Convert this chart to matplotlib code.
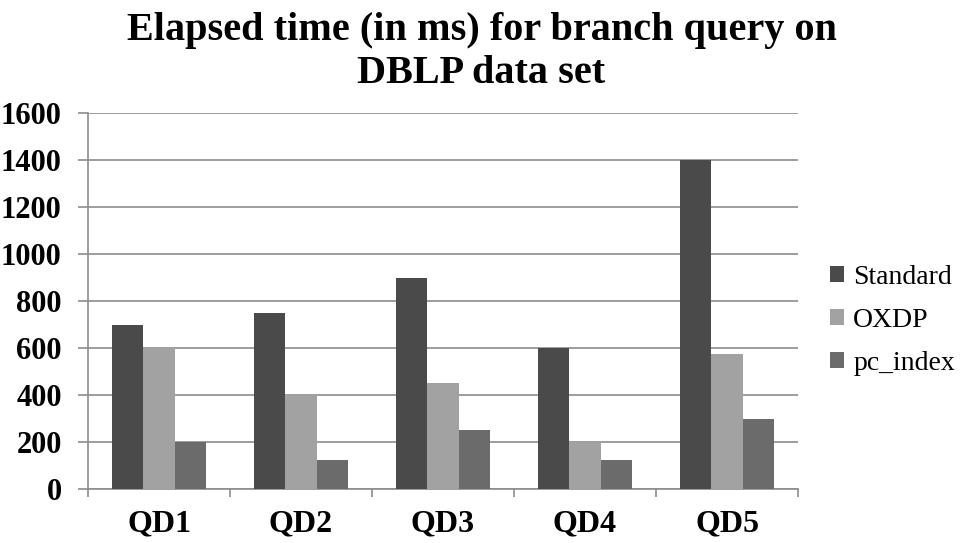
import numpy as np
import matplotlib
matplotlib.use("Agg")
from matplotlib import pyplot as plt
from matplotlib.patches import Patch

# data
queries = ["QD1", "QD2", "QD3", "QD4", "QD5"]
standard = [700, 750, 900, 600, 1400]
oxdp = [600, 400, 450, 200, 575]
pc_index = [200, 125, 250, 125, 300]
series_names = ["Standard", "OXDP", "pc_index"]
colors = ["#4a4a4a", "#a2a2a2", "#6b6b6b"]

plt.rcParams['font.family'] = ['Liberation Serif', 'DejaVu Serif']

fig = plt.figure(figsize=(9.63, 5.43), dpi=100)
ax = fig.add_axes([0.0914, 0.0994, 0.7373, 0.6925])

x = np.arange(len(queries))
w = 1 / 4.5
for i, (vals, c) in enumerate(zip([standard, oxdp, pc_index], colors)):
    ax.bar(x + (i - 1) * w, vals, width=w, color=c, zorder=3)

ax.set_xlim(-0.5, len(queries) - 0.5)
ax.set_ylim(0, 1600)
ax.set_yticks(np.arange(0, 1601, 200))
ax.yaxis.grid(True, color="#8c8c8c", linewidth=1.2, zorder=0)

ax.set_xticks(x)
ax.set_xticklabels(queries, fontsize=23, fontweight="bold")
ax.set_xticks(np.arange(-0.5, len(queries)), minor=True)
ax.tick_params(axis="x", which="major", length=0, pad=15)
ax.tick_params(axis="x", which="minor", length=6, color="#8c8c8c", width=1.2, direction="out")
ax.tick_params(axis="y", length=7, color="#8c8c8c", width=1.2, pad=12)
for lab in ax.get_yticklabels():
    lab.set_fontsize(22)
    lab.set_fontweight("bold")

for s in ["top", "right"]:
    ax.spines[s].set_visible(False)
for s in ["left", "bottom"]:
    ax.spines[s].set_color("#8c8c8c")
    ax.spines[s].set_linewidth(1.2)

fig.text(0.5, 0.978, "Elapsed time (in ms) for branch query on\nDBLP data set",
         ha="center", va="top", fontsize=29, fontweight="bold", linespacing=1.2)

handles = [Patch(facecolor=c, label=n) for n, c in zip(series_names, colors)]
fig.legend(handles=handles, loc="center left", bbox_to_anchor=(0.85, 0.41),
           frameon=False, fontsize=20, handlelength=0.5, handleheight=0.5,
           handletextpad=0.35, labelspacing=0.65, borderaxespad=0)

fig.savefig("out.png", dpi=100, facecolor="white")
